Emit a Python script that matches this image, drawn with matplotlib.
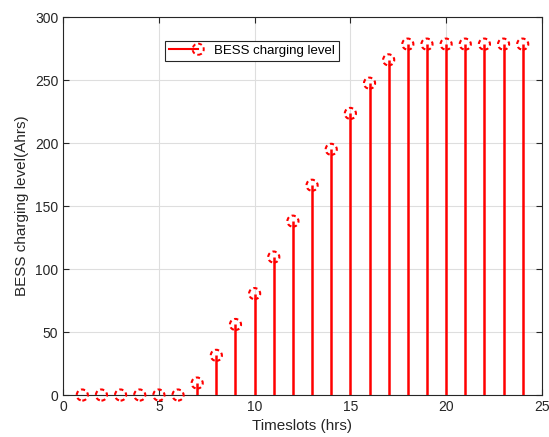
import matplotlib
matplotlib.use("Agg")
import matplotlib.pyplot as plt
from matplotlib.lines import Line2D
from matplotlib.patches import Circle
from matplotlib.legend_handler import HandlerBase

plt.rcParams['font.family'] = ['Liberation Sans', 'DejaVu Sans']

# timeslots and BESS charging level
hours = list(range(1, 25))
level = [0, 0, 0, 0, 0, 0, 9.5, 31.5, 56, 80.5, 109.5, 138, 166.5, 195, 223.5,
         247.5, 266, 278.5, 278.5, 278.5, 278.5, 278.5, 278.5, 278.5]

red = '#ff0000'


class StemHandler(HandlerBase):
    # line with a dashed circle at its right end, like the matlab stem legend
    def create_artists(self, legend, orig, xdescent, ydescent, width, height,
                       fontsize, trans):
        y = height / 2 - ydescent
        ln = Line2D([-xdescent, width - xdescent - 4], [y, y], color=red,
                    linewidth=1.5, transform=trans)
        c = Circle((width - xdescent - 4, y), 4, facecolor='none',
                   edgecolor=red, linewidth=1.4, linestyle=(0, (2, 1.5)),
                   transform=trans)
        return [ln, c]


fig = plt.figure(figsize=(5.49, 4.37), dpi=100)
ax = fig.add_axes([0.115, 0.096, 0.872, 0.865])

ax.vlines(hours, 0, level, colors=red, linewidth=1.8, zorder=3)
ax.scatter(hours, level, s=64, facecolors='none', edgecolors=red,
           linewidths=1.5, linestyles=(0, (2, 1.5)), zorder=4, clip_on=False)

ax.set_xlim(0, 25)
ax.set_ylim(0, 300)
ax.set_xticks([0, 5, 10, 15, 20, 25])
ax.set_yticks([0, 50, 100, 150, 200, 250, 300])
ax.grid(True, color='#dedede', linewidth=0.8)
ax.set_axisbelow(True)
ax.tick_params(direction='in', length=4, colors='#262626', labelsize=10,
               top=True, right=True, labeltop=False, labelright=False)
for s in ax.spines.values():
    s.set_color('#262626')
    s.set_linewidth(0.8)

ax.set_xlabel('Timeslots (hrs)', fontsize=11, color='#262626')
ax.set_ylabel('BESS charging level(Ahrs)', fontsize=11, color='#262626')

proxy = Line2D([], [], color=red)
leg = ax.legend([proxy], ['BESS charging level'],
                handler_map={proxy: StemHandler()},
                loc='upper left', bbox_to_anchor=(0.2, 0.955),
                fancybox=False, edgecolor='#262626', framealpha=1,
                fontsize=9.5, handlelength=2.6,
                borderpad=0.3, handletextpad=0.8)
leg.get_frame().set_linewidth(0.8)

fig.savefig('out.png', dpi=100)
